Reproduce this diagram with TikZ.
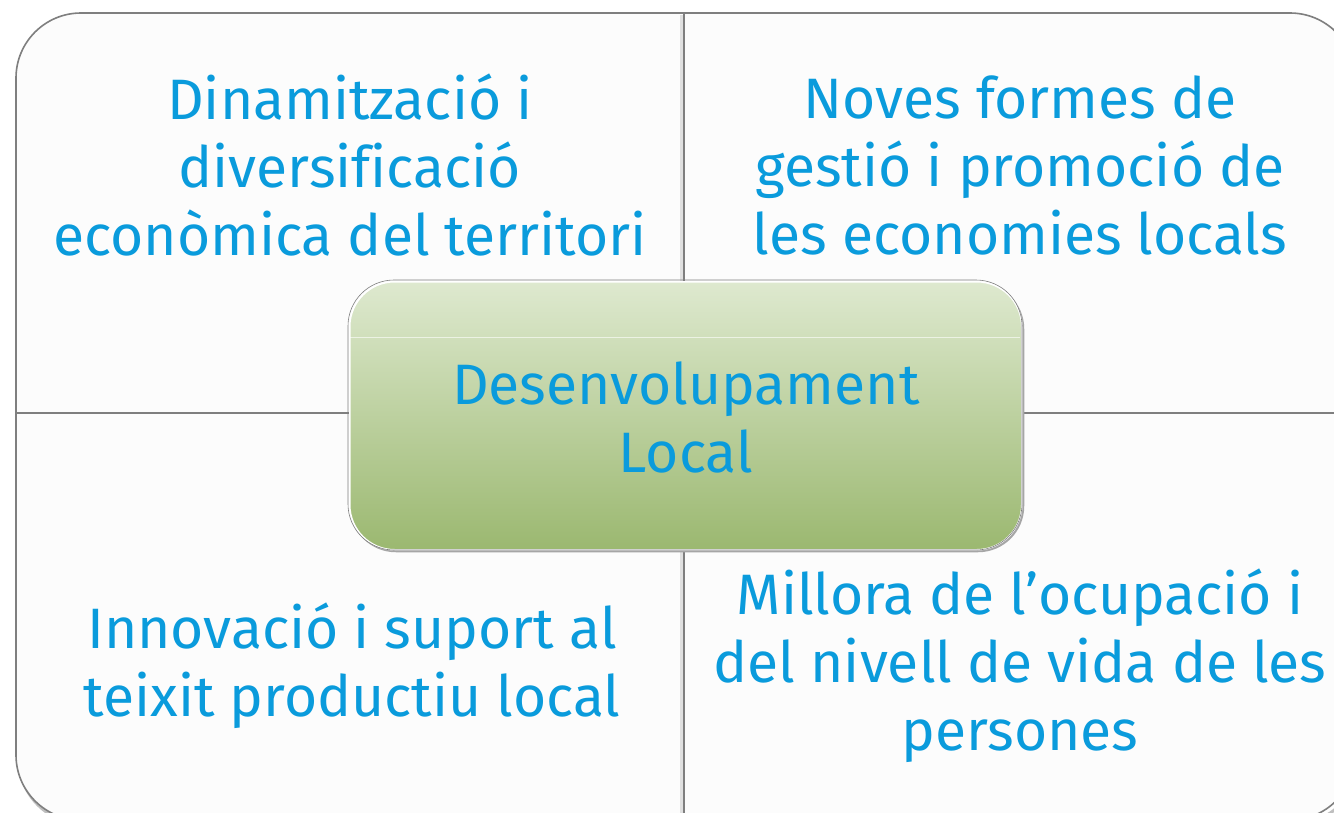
\documentclass[tikz,border=0pt]{standalone}
\usepackage{fontspec}
\setmainfont{Fira Sans}[Ligatures=NoCommon]
\usetikzlibrary{shadows}
\definecolor{txtblue}{HTML}{0A9BDC}
\definecolor{linegray}{HTML}{7F7F7F}
\definecolor{gtop}{HTML}{DEE9CF}
\definecolor{gbot}{HTML}{9BB870}
\tikzset{
  lbl/.style={text=txtblue, align=center, font=\fontsize{57}{68}\selectfont, inner sep=0pt},
  grid/.style={draw=linegray, line width=1.6pt},
  centerbox/.style={rounded corners=45pt, top color=gtop, bottom color=gbot, draw=white, line width=1.5pt}
}
\begin{document}
\begin{tikzpicture}[x=1pt,y=-1pt]
\useasboundingbox (0,0) rectangle (1334,812);
\fill[white] (0,0) rectangle (1334,812);
\clip (0,0) rectangle (1334,812);
% shadow of outer frame
\draw[black!25, line width=3pt, rounded corners=65pt] (19,17) rectangle (1359,824);
\fill[white!99!black, rounded corners=65pt] (16,13) rectangle (1355,820);
\draw[grid, rounded corners=65pt] (16,13) rectangle (1355,820);
\coordinate (vt) at (684,13);
\coordinate (vb) at (684,820);
\coordinate (hl) at (16,413);
\coordinate (hr) at (1355,413);
\draw[black!12, line width=3pt] (681,15) -- (681,818);
\draw[grid] (vt) -- (vb);
\draw[grid] (hl) -- (hr);
% center box
\draw[black!35, line width=2.5pt, rounded corners=45pt] (351,284) rectangle (1023,551);
\node[centerbox, minimum width=672pt, minimum height=268pt, anchor=north west] (center) at (349,281) {};
\draw[linegray, line width=0.6pt, rounded corners=46pt] (348,280) rectangle (1022,550);
\draw[white, line width=0.8pt, opacity=0.6] (350,337) -- (1020,337);
% texts
\node[lbl] (tl) at (350,165) {Dinamització i\\diversificació\\econòmica del territori};
\node[lbl] (tr) at (1020,165) {Noves formes de\\gestió i promoció de\\les economies locals};
\node[lbl] (c) at (686,417) {Desenvolupament\\Local};
\node[lbl] (bl) at (352,666) {Innovació i suport al\\teixit productiu local};
\node[lbl] (br) at (1020,666) {Millora de l’ocupació i\\del nivell de vida de les\\persones};
\end{tikzpicture}
\end{document}
